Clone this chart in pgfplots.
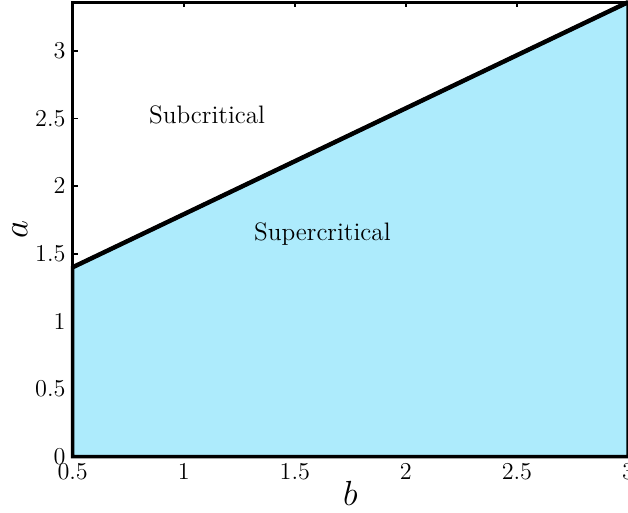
\documentclass[border=0pt]{standalone}
\usepackage{pgfplots}
\pgfplotsset{compat=1.18}

\definecolor{supfill}{RGB}{173,235,252}

\begin{document}
\begin{tikzpicture}[trim axis right]
\begin{axis}[
  name=ax,
  scale only axis, width=275pt, height=225pt,
  xmin=0.5, xmax=3, ymin=0, ymax=3.36,
  xtick={0.5,1,1.5,2,2.5,3}, ytick={0,0.5,1,1.5,2,2.5,3},
  tick align=inside, major tick length=2.6pt,
  tick style={line width=0.9pt, black},
  axis line style={line width=1.7pt},
  tick label style={font=\fontsize{12}{14}\selectfont},
  xlabel={$b$}, ylabel={$a$},
  label style={font=\fontsize{18}{20}\selectfont},
  xlabel style={yshift=6pt},
  ylabel style={yshift=-3pt},
  clip=false,
]
\addplot[fill=supfill, draw=black, line width=1.7pt]
  coordinates {(0.5,0) (0.5,1.4) (3,3.36) (3,0)} -- cycle;
\addplot[black, line width=2.2pt] coordinates {(0.5,1.4) (3,3.36)};
\node[font=\fontsize{12.5}{14}\selectfont] at (axis cs:1.105,2.53) {Subcritical};
\node[font=\fontsize{12.5}{14}\selectfont] at (axis cs:1.624,1.646) {Supercritical};
\end{axis}
\path ([xshift=-36pt]ax.west) ++(0,0);
\end{tikzpicture}
\end{document}
